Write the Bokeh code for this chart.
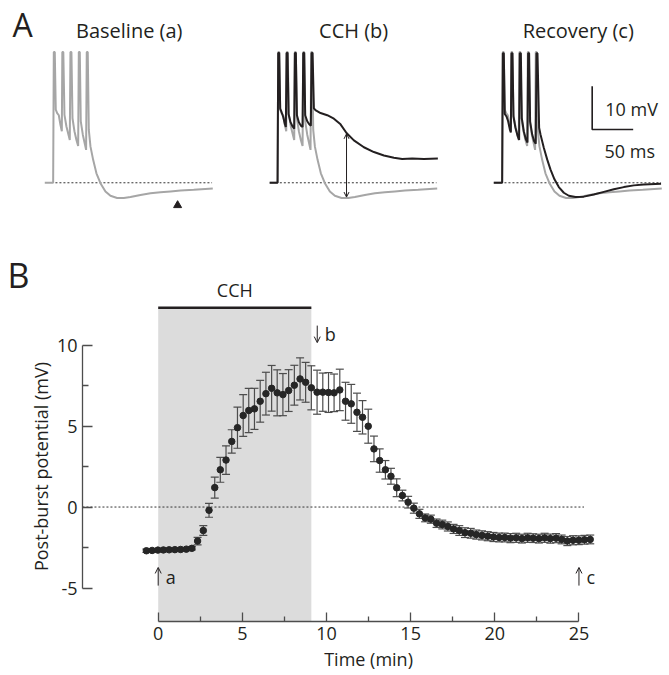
import math
import pandas as pd
from bokeh.plotting import figure
from bokeh.models import (Range1d, Label, Arrow, OpenHead, Whisker, TeeHead,
                          ColumnDataSource, FixedTicker, LinearAxis)
from bokeh.embed import file_html
from bokeh.resources import INLINE

FONT = "Open Sans"
INK = "#231f20"
GREY_TRACE = "#a6a6a6"

# ---------------- Panel A traces (ms from burst onset, mV relative to rest) ----------------
base_t = [-11, -0.8, 0, 1.2, 2.4, 4.1, 6.1, 8.1, 9.8, 10.4, 11.6, 13.0, 15.4, 17.9, 19.5,
          20.3, 21.5, 22.8, 25.2, 27.6, 29.7, 30.5, 31.7, 32.9, 35.4, 37.8, 39.4,
          40.2, 41.4, 42.7, 44.7, 48.0, 52.0, 56.9, 63.0, 69.1, 77.2, 85.4, 93.5,
          105.7, 117.9, 130.1, 142.3, 154.5, 170.7, 193.9]
base_v = [0, 0, 30.2, 30.2, 16.9, 16.1, 15.6, 13.4, 11.9, 30.2, 30.2, 15.7, 13.0, 11.1, 9.9,
          30.2, 30.2, 14.9, 11.9, 9.9, 8.5, 30.2, 30.2, 14.2, 11.1, 9.0, 7.6,
          30.2, 30.2, 12.2, 8.4, 5.3, 2.2, -0.1, -2.0, -3.0, -3.5, -3.5, -3.3,
          -2.8, -2.4, -2.2, -2.0, -1.8, -1.6, -1.3]

cch_t = [-10.2, -0.8, 0, 1.2, 2.4, 4.1, 6.1, 8.1, 9.3, 10.2, 11.4, 12.6, 15.0, 17.5, 19.5,
         20.3, 21.5, 22.8, 25.2, 27.6, 29.7, 30.5, 31.7, 32.9, 35.4, 37.8, 39.8,
         40.7, 41.9, 43.5, 45.9, 51.6, 59.8, 67.9, 76.0, 83.3, 92.3, 104.5, 116.7,
         128.9, 141.1, 151.2, 163.4, 177.6, 194.7]
cch_v = [0, 0, 30.0, 30.0, 17.1, 16.3, 15.2, 13.6, 12.9, 30.0, 30.0, 15.9, 14.0, 13.0, 12.5,
         30.0, 30.0, 15.6, 14.0, 13.2, 12.9, 30.0, 30.0, 15.6, 14.2, 13.5, 13.2,
         30.0, 30.0, 17.2, 16.7, 16.1, 15.6, 14.8, 13.5, 11.5, 9.8, 8.2, 7.1,
         6.3, 5.8, 5.5, 5.6, 5.5, 5.6]

rec_t = [-11.0, -0.8, 0, 1.2, 2.4, 4.5, 6.5, 8.5, 9.8, 10.6, 11.8, 13.0, 15.4, 17.9, 19.9,
         20.7, 22.0, 23.2, 25.6, 28.0, 30.1, 30.9, 32.1, 33.3, 35.8, 38.2, 40.2,
         41.1, 42.3, 44.3, 45.9, 50.0, 54.1, 58.1, 63.0, 68.3, 74.4, 80.5, 88.6,
         98.8, 111.0, 123.2, 135.4, 147.6, 159.8, 171.9, 193.0]
rec_v = [0, 0, 29.9, 29.9, 15.9, 15.3, 14.2, 12.4, 11.6, 29.9, 29.9, 15.3, 12.7, 10.9, 9.9,
         29.9, 29.9, 14.9, 11.9, 10.1, 9.3, 29.9, 29.9, 14.2, 11.2, 9.6, 9.0,
         29.9, 29.9, 12.7, 11.2, 8.1, 5.4, 3.1, 0.8, -1.0, -2.3, -3.0, -3.3,
         -3.2, -2.7, -2.1, -1.5, -1.0, -0.6, -0.4, -0.2]

panel_titles = ["Baseline (a)", "CCH (b)", "Recovery (c)"]
rest_span_ms = [2, 193]          # extent of dotted resting-level lines
pbp_measure_ms = 83.3            # post-burst potential measurement time (arrow in b)
pbp_b_top, pbp_b_bottom = 11.3, -3.3
trough_marker_ms = 151
scale_mv, scale_ms = 10, 50
scale_origin = (109, 12.3)

# ---------------- Panel B data ----------------
time_min = [-0.70, -0.36, -0.02, 0.31, 0.65, 0.99, 1.33, 1.67, 2.00, 2.34,
            2.68, 3.02, 3.36, 3.69, 4.03, 4.37, 4.71, 5.05, 5.38, 5.72,
            6.06, 6.40, 6.74, 7.07, 7.41, 7.75, 8.09, 8.43, 8.76, 9.10,
            9.44, 9.78, 10.12, 10.45, 10.79, 11.13, 11.47, 11.81, 12.14, 12.48,
            12.82, 13.16, 13.50, 13.83, 14.17, 14.51, 14.85, 15.19, 15.52, 15.86,
            16.20, 16.54, 16.88, 17.21, 17.55, 17.89, 18.23, 18.57, 18.90, 19.24,
            19.58, 19.92, 20.26, 20.59, 20.93, 21.27, 21.61, 21.95, 22.28, 22.62,
            22.96, 23.30, 23.64, 23.97, 24.31, 24.65, 24.99, 25.33, 25.67]
pbp_mv = [-2.70, -2.68, -2.66, -2.65, -2.64, -2.63, -2.62, -2.60, -2.55, -2.10,
          -1.45, -0.20, 1.20, 2.30, 2.90, 4.05, 4.90, 5.65, 5.96, 6.06,
          6.53, 7.00, 7.33, 7.05, 6.94, 7.19, 7.52, 7.91, 7.70, 7.36,
          7.09, 7.09, 7.07, 7.05, 7.23, 6.53, 6.37, 5.85, 5.54, 4.99,
          3.59, 2.87, 2.30, 1.90, 1.19, 0.71, 0.30, -0.07, -0.42, -0.67,
          -0.75, -1.00, -1.08, -1.20, -1.35, -1.45, -1.58, -1.62, -1.70, -1.75,
          -1.80, -1.85, -1.88, -1.88, -1.92, -1.90, -1.95, -1.90, -1.92, -1.95,
          -1.90, -1.95, -1.92, -2.00, -2.10, -2.05, -2.05, -2.02, -2.00]
pbp_sem = [0.10, 0.10, 0.10, 0.10, 0.10, 0.10, 0.10, 0.10, 0.10, 0.23,
           0.30, 0.43, 0.65, 0.77, 0.88, 0.72, 1.27, 1.29, 1.37, 1.27,
           1.29, 1.32, 1.41, 1.42, 1.30, 1.29, 1.23, 1.30, 1.23, 1.36,
           1.36, 1.18, 1.23, 1.16, 1.28, 1.17, 1.20, 1.18, 1.03, 1.05,
           0.79, 0.72, 0.57, 0.49, 0.55, 0.33, 0.36, 0.31, 0.28, 0.24,
           0.25, 0.26, 0.27, 0.28, 0.28, 0.30, 0.30, 0.30, 0.28, 0.28,
           0.28, 0.28, 0.27, 0.27, 0.28, 0.28, 0.27, 0.28, 0.27, 0.27,
           0.28, 0.28, 0.28, 0.27, 0.28, 0.28, 0.27, 0.27, 0.27]
x_ticks = [0, 5, 10, 15, 20, 25]
x_minor = [2.5, 7.5, 12.5, 17.5, 22.5]
y_ticks = [-5, 0, 5, 10]
y_minor = [-2.5, 2.5, 7.5]
cch_start, cch_end = 0, 9.1
cch_bar_level = 12.3
mark_a, mark_b, mark_c = 0, 9.45, 25

# axis placement (data units) for panel B
Y_AXIS_AT = -4.5     # minutes
X_AXIS_AT = -7.07    # mV

# ============ one canvas: panel B on the default ranges, panel A on extra ranges ============
p = figure(width=669, height=675, x_range=Range1d(-9.37, 30.38), y_range=Range1d(-10.40, 31.27),
           output_backend="svg", toolbar_location=None, min_border=0,
           x_axis_type=None, y_axis_type=None, outline_line_color=None)
p.extra_x_ranges = {"a": Range1d(-65.0, 750.9), "b": Range1d(-338.7, 477.2),
                    "c": Range1d(-612.6, 203.3)}
p.extra_y_ranges = {"A": Range1d(-113.8, 42.1)}
p.grid.visible = False

# ---------------- Panel A ----------------
for rname, title in zip(["a", "b", "c"], panel_titles):
    p.line(rest_span_ms, [0, 0], x_range_name=rname, y_range_name="A", line_color="#333333",
           line_width=1, line_dash="2 2")
    p.line(base_t, base_v, x_range_name=rname, y_range_name="A", line_color=GREY_TRACE,
           line_width=2)
    p.add_layout(Label(x=92, y=35.2, x_range_name=rname, y_range_name="A", text=title,
                       text_align="center", text_baseline="middle", text_font=FONT,
                       text_font_size="20px", text_color=INK))

p.line(cch_t, cch_v, x_range_name="b", y_range_name="A", line_color=INK, line_width=2)
p.line(rec_t, rec_v, x_range_name="c", y_range_name="A", line_color=INK, line_width=2)

p.scatter([trough_marker_ms], [-5.2], x_range_name="a", y_range_name="A",
          marker="triangle", size=8, color=INK)

p.add_layout(Arrow(x_range_name="b", y_range_name="A", x_start=pbp_measure_ms,
                   x_end=pbp_measure_ms, y_start=pbp_b_bottom, y_end=pbp_b_top,
                   line_color=INK, line_width=1,
                   start=OpenHead(size=5, line_width=1, line_color=INK),
                   end=OpenHead(size=5, line_width=1, line_color=INK)))

sx, sy = scale_origin
p.line([sx, sx, sx + scale_ms], [sy + scale_mv, sy, sy], x_range_name="c", y_range_name="A",
       line_color=INK, line_width=1.6)
p.add_layout(Label(x=sx + 16, y=sy + scale_mv / 2 - 0.3, x_range_name="c", y_range_name="A",
                   text="10 mV", text_baseline="middle", text_font=FONT,
                   text_font_size="18px", text_color=INK))
p.add_layout(Label(x=sx + 15, y=sy - 5, x_range_name="c", y_range_name="A", text="50 ms",
                   text_baseline="middle", text_font=FONT, text_font_size="18px",
                   text_color=INK))
p.add_layout(Label(x=-38, y=36.6, x_range_name="a", y_range_name="A", text="A",
                   text_align="center", text_baseline="middle", text_font=FONT,
                   text_font_size="32px", text_color=INK))

# ---------------- Panel B ----------------
df = pd.DataFrame({"t": time_min, "v": pbp_mv, "e": pbp_sem})
df["hi"] = df["v"] + df["e"]
df["lo"] = df["v"] - df["e"]
src = ColumnDataSource(df)

shade = p.quad(left=[cch_start], right=[cch_end], bottom=[X_AXIS_AT], top=[cch_bar_level],
               fill_color="#dcdcdc", line_color=None)
shade.level = "image"
p.line([cch_start, cch_end], [cch_bar_level, cch_bar_level], line_color=INK, line_width=2.5)
zl = p.line([Y_AXIS_AT, 25.3], [0, 0], line_color="#333333", line_width=1, line_dash="2 2")
zl.level = "underlay"

wh = Whisker(source=src, base="t", upper="hi", lower="lo", line_color="#4d4d4d", line_width=1.2,
             upper_head=TeeHead(size=8, line_color="#4d4d4d", line_width=1.2),
             lower_head=TeeHead(size=8, line_color="#4d4d4d", line_width=1.2))
wh.level = "underlay"
p.add_layout(wh)
p.scatter("t", "v", source=src, size=6.5, fill_color="#262626", line_color="#262626")

xax = LinearAxis(fixed_location=X_AXIS_AT, bounds=(0, 25),
                 ticker=FixedTicker(ticks=x_ticks, minor_ticks=x_minor))
yax = LinearAxis(fixed_location=Y_AXIS_AT, bounds=(-5, 10),
                 ticker=FixedTicker(ticks=y_ticks, minor_ticks=y_minor))
for ax in (xax, yax):
    ax.major_tick_out = 0
    ax.minor_tick_out = 0
    ax.axis_line_color = "#4d4d4d"
    ax.major_tick_line_color = "#4d4d4d"
    ax.minor_tick_line_color = "#4d4d4d"
    ax.axis_line_width = 1.3
    ax.major_tick_line_width = 1.3
    ax.minor_tick_line_width = 1.3
    ax.major_label_text_font = FONT
    ax.major_label_text_font_size = "18px"
    ax.major_label_text_color = INK
    ax.major_label_standoff = 5
xax.major_tick_in = 9
xax.minor_tick_in = 5
yax.major_tick_in = 10
yax.minor_tick_in = 6
yax.major_label_overrides = {-5: "-5"}
p.add_layout(xax, "below")
p.add_layout(yax, "left")

p.add_layout(Label(x=12.5, y=-9.41, text="Time (min)", text_align="center",
                   text_baseline="middle", text_font=FONT, text_font_size="18px",
                   text_color=INK))
p.add_layout(Label(x=-6.99, y=2.5, text="Post-burst potential (mV)", angle=math.pi / 2,
                   text_align="center", text_baseline="middle", text_font=FONT,
                   text_font_size="18px", text_color=INK))
p.add_layout(Label(x=-8.3, y=14.35, text="B", text_align="center", text_baseline="middle",
                   text_font=FONT, text_font_size="34px", text_color=INK))
p.add_layout(Label(x=(cch_start + cch_end) / 2, y=13.4, text="CCH", text_align="center",
                   text_baseline="middle", text_font=FONT, text_font_size="18px",
                   text_color=INK))

for xm, ys, ye, letter in [(mark_a, -4.85, -3.73, "a"), (mark_c, -4.85, -3.73, "c"),
                           (mark_b, 11.2, 10.15, "b")]:
    p.add_layout(Arrow(x_start=xm, x_end=xm, y_start=ys, y_end=ye, line_color=INK, line_width=1,
                       end=OpenHead(size=6, line_width=1, line_color=INK)))
    p.add_layout(Label(x=xm + 0.45, y=(ys + ye) / 2, text=letter, text_baseline="middle",
                       text_font=FONT, text_font_size="18px", text_color=INK))

open("out.html", "w").write(file_html(p, INLINE))
